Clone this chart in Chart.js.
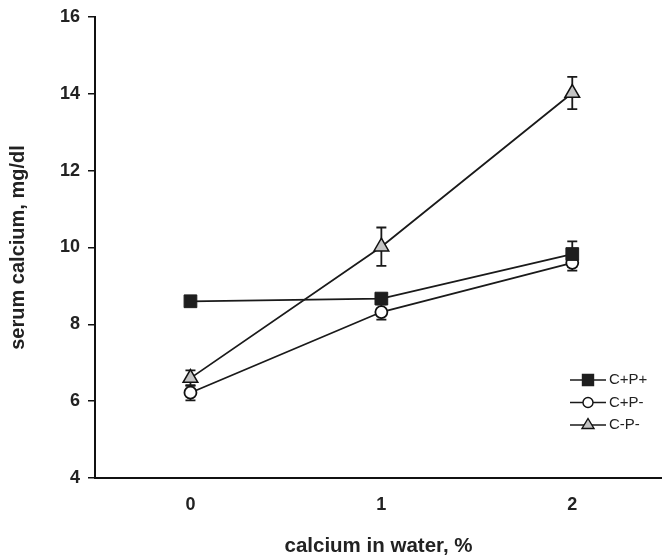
<!DOCTYPE html>
<html>
<head>
<meta charset="utf-8">
<script src="https://cdn.jsdelivr.net/npm/chart.js@4.4.0/dist/chart.umd.min.js"></script>
<style>
    html, body { margin: 0; padding: 0; background: #fff; }
</style>
</head>
<body>
<canvas id="myChart" width="662" height="557"></canvas>
<script>
const xValues = [0, 1, 2];
const seriesLabels = ["C+P+", "C+P-", "C-P-"];
const cppValues = [8.6, 8.67, 9.83];
const cppErr = [0.08, 0.08, 0.33];
const cpmValues = [6.22, 8.32, 9.6];
const cpmErr = [0.2, 0.2, 0.2];
const cmmValues = [6.6, 10.02, 14.02];
const cmmErr = [0.2, 0.5, 0.42];
const yTicks = [4, 6, 8, 10, 12, 14, 16];

const toPoints = (vals) => vals.map((v, i) => ({ x: xValues[i], y: v }));

Chart.defaults.font.family = "'Liberation Sans', Arial, sans-serif";
Chart.defaults.color = "#222";

// vertical error bars with caps, drawn under the markers
const errorBars = {
    id: "errorBars",
    beforeDatasetsDraw(chart) {
        const ctx = chart.ctx;
        const yScale = chart.scales.y;
        ctx.save();
        ctx.strokeStyle = "#1a1a1a";
        ctx.lineWidth = 1.8;
        chart.data.datasets.forEach((ds, di) => {
            const meta = chart.getDatasetMeta(di);
            ds.errors.forEach((e, i) => {
                const px = meta.data[i].x;
                const top = yScale.getPixelForValue(ds.data[i].y + e);
                const bot = yScale.getPixelForValue(ds.data[i].y - e);
                ctx.beginPath();
                ctx.moveTo(px, top);
                ctx.lineTo(px, bot);
                ctx.moveTo(px - 5, top);
                ctx.lineTo(px + 5, top);
                ctx.moveTo(px - 5, bot);
                ctx.lineTo(px + 5, bot);
                ctx.stroke();
            });
        });
        ctx.restore();
    },
};

// legend: short line with marker in the middle, label on the right
const lineLegend = {
    id: "lineLegend",
    afterDraw(chart) {
        const ctx = chart.ctx;
        const area = chart.chartArea;
        const x0 = area.right - 92;
        const x1 = x0 + 36;
        ctx.save();
        chart.data.datasets.forEach((ds, i) => {
            const y = area.bottom - 98 + i * 22.5;
            ctx.strokeStyle = "#1a1a1a";
            ctx.lineWidth = 1.5;
            ctx.beginPath();
            ctx.moveTo(x0, y);
            ctx.lineTo(x1, y);
            ctx.stroke();
            const cx = (x0 + x1) / 2;
            ctx.fillStyle = ds.pointBackgroundColor;
            ctx.strokeStyle = ds.pointBorderColor;
            ctx.lineWidth = 1.4;
            ctx.beginPath();
            if (ds.pointStyle === "rect") {
                ctx.rect(cx - 5.5, y - 5.5, 11, 11);
            } else if (ds.pointStyle === "circle") {
                ctx.arc(cx, y, 5, 0, Math.PI * 2);
            } else {
                ctx.moveTo(cx, y - 6.5);
                ctx.lineTo(cx + 6, y + 3.5);
                ctx.lineTo(cx - 6, y + 3.5);
                ctx.closePath();
            }
            ctx.fill();
            ctx.stroke();
            ctx.fillStyle = "#222";
            ctx.font = "15px 'Liberation Sans', Arial, sans-serif";
            ctx.textBaseline = "middle";
            ctx.fillText(ds.label, x1 + 3, y);
        });
        ctx.restore();
    },
};

const ctx = document.getElementById("myChart").getContext("2d");
const chart = new Chart(ctx, {
    type: "line",
    data: {
        datasets: [
            {
                label: seriesLabels[0],
                data: toPoints(cppValues),
                errors: cppErr,
                borderColor: "#1a1a1a",
                borderWidth: 1.8,
                pointStyle: "rect",
                pointRadius: 9,
                pointBackgroundColor: "#1e1e1e",
                pointBorderColor: "#1e1e1e",
                pointBorderWidth: 1,
                tension: 0,
            },
            {
                label: seriesLabels[1],
                data: toPoints(cpmValues),
                errors: cpmErr,
                borderColor: "#1a1a1a",
                borderWidth: 1.8,
                pointStyle: "circle",
                pointRadius: 6,
                pointBackgroundColor: "#ffffff",
                pointBorderColor: "#111",
                pointBorderWidth: 1.8,
                tension: 0,
            },
            {
                label: seriesLabels[2],
                data: toPoints(cmmValues),
                errors: cmmErr,
                borderColor: "#1a1a1a",
                borderWidth: 1.8,
                pointStyle: "triangle",
                pointRadius: 8.5,
                pointBackgroundColor: "#c4c4c4",
                pointBorderColor: "#111",
                pointBorderWidth: 1.5,
                tension: 0,
            },
        ],
    },
    options: {
        responsive: false,
        animation: false,
        layout: { padding: { top: 14, right: 0, left: 0, bottom: 0 }, autoPadding: false },
        scales: {
            x: {
                type: "linear",
                min: -0.5,
                max: 2.47,
                afterBuildTicks: (scale) => {
                    scale.ticks = xValues.map((v) => ({ value: v }));
                },
                afterFit: (scale) => {
                    scale.height = 79;
                },
                grid: { display: false },
                border: { display: true, color: "#111", width: 2 },
                ticks: {
                    padding: 8,
                    font: { size: 18, weight: "bold" },
                    color: "#222",
                },
                title: {
                    display: true,
                    text: "calcium in water, %",
                    font: { size: 20.5, weight: "bold" },
                    color: "#222",
                    padding: { top: 10, bottom: -2 },
                },
            },
            y: {
                min: 4,
                max: 16,
                afterBuildTicks: (scale) => {
                    scale.ticks = yTicks.map((v) => ({ value: v }));
                },
                afterFit: (scale) => {
                    scale.width = 95;
                },
                grid: {
                    drawOnChartArea: false,
                    drawTicks: true,
                    tickLength: 7,
                    color: "#111",
                    lineWidth: 1.5,
                },
                border: { display: true, color: "#111", width: 2 },
                ticks: {
                    padding: 8,
                    font: { size: 18, weight: "bold", lineHeight: 1 },
                    color: "#222",
                },
                title: {
                    display: true,
                    text: "serum calcium, mg/dl",
                    font: { size: 20, weight: "bold" },
                    color: "#222",
                    padding: { top: 6, bottom: 0 },
                },
            },
        },
        plugins: {
            legend: { display: false },
            tooltip: { enabled: false },
        },
    },
    plugins: [errorBars, lineLegend],
});
</script>
</body>
</html>
